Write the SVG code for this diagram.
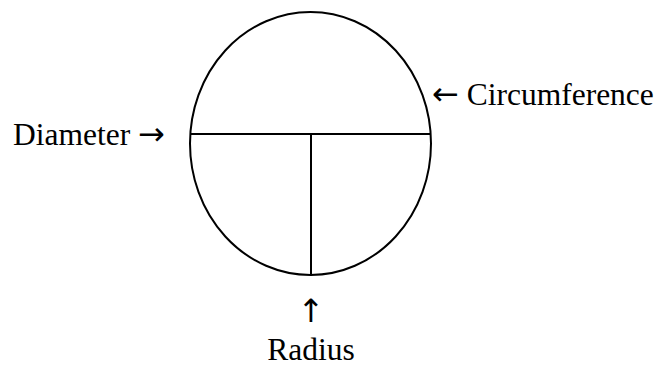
<svg xmlns="http://www.w3.org/2000/svg" width="662" height="368" viewBox="0 0 662 368">
<style>
.s{fill:none;stroke:#000;stroke-width:2}
.t{font-family:"Liberation Serif","Times New Roman",serif;font-size:31.5px;fill:#000}
.a{font-family:"DejaVu Sans",sans-serif;font-size:32px}
</style>
<rect width="662" height="368" fill="#fff"/>
<g id="circle">
<ellipse class="s" cx="310.5" cy="143.5" rx="120.5" ry="131.5"/>
</g>
<g id="connectors">
<line class="s" x1="190" y1="134" x2="431" y2="134"/>
<line class="s" x1="311" y1="134" x2="311" y2="276"/>
</g>
<g id="diameter"><text class="t" x="13" y="145">Diameter <tspan class="a" font-size="30">→</tspan></text></g>
<g id="circumference"><text class="t" x="432" y="105"><tspan class="a" font-size="30">←</tspan> Circumference</text></g>
<g id="radius">
<text class="t a" x="311" y="322" text-anchor="middle" font-size="33">↑</text>
<text class="t" x="311" y="360" text-anchor="middle">Radius</text>
</g>
</svg>
